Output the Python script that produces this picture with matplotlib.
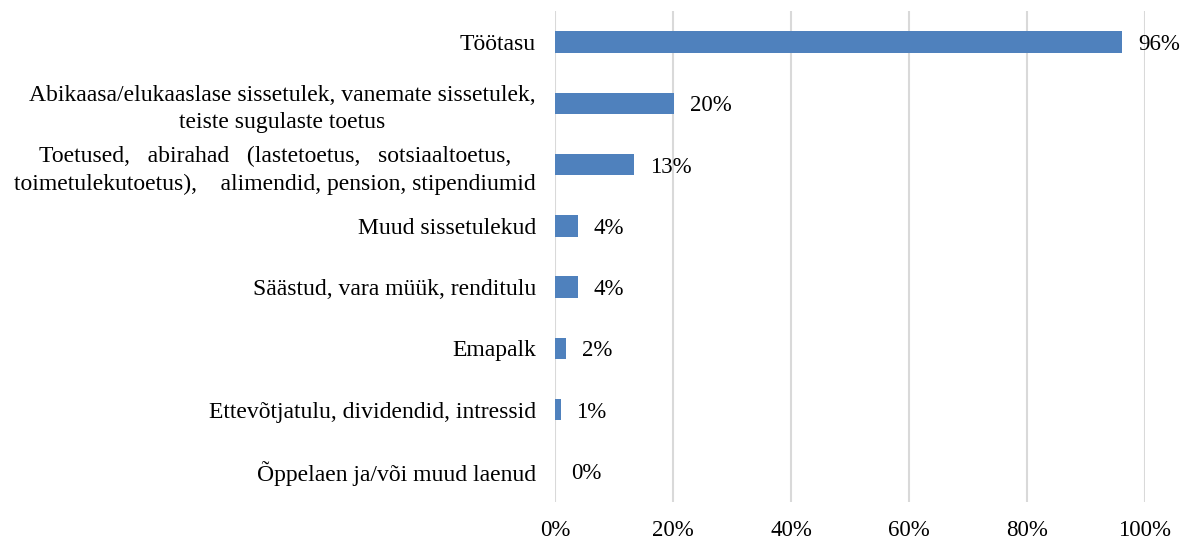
import matplotlib.pyplot as plt
from matplotlib.ticker import PercentFormatter

plt.rcParams['font.family'] = ['Liberation Serif', 'DejaVu Serif']

# categories top to bottom
categories = [
    "Töötasu",
    "Abikaasa/elukaaslase sissetulek, vanemate sissetulek,\nteiste sugulaste toetus",
    "Toetused,   abirahad   (lastetoetus,   sotsiaaltoetus,\ntoimetulekutoetus),    alimendid, pension, stipendiumid",
    "Muud sissetulekud",
    "Säästud, vara müük, renditulu",
    "Emapalk",
    "Ettevõtjatulu, dividendid, intressid",
    "Õppelaen ja/või muud laenud",
]
values = [0.961, 0.202, 0.134, 0.038, 0.038, 0.019, 0.009, 0.0]
value_labels = ["96%", "20%", "13%", "4%", "4%", "2%", "1%", "0%"]

fig = plt.figure(figsize=(11.89, 5.4), dpi=100)
ax = fig.add_axes([0.467, 0.071, 0.496, 0.908])

ypos = list(range(len(categories)))
ax.barh(ypos, values, height=0.35, color='#4f81bd', zorder=3)
ax.set_ylim(len(categories) - 0.5, -0.5)
ax.set_xlim(0, 1)
ax.set_yticks(ypos)
ax.set_yticklabels(categories, fontsize=17, multialignment='center', linespacing=1.4)
ax.set_xticks([0, 0.2, 0.4, 0.6, 0.8, 1.0])
ax.xaxis.set_major_formatter(PercentFormatter(1.0, decimals=0))
ax.tick_params(axis='x', labelsize=16.5, length=0, pad=13)
ax.tick_params(axis='y', length=0, pad=14)
ax.grid(axis='x', color='#d9d9d9', linewidth=1.5, zorder=0)
for s in ax.spines.values():
    s.set_visible(False)

for y, v, lab in zip(ypos, values, value_labels):
    ax.annotate(lab, (v, y), xytext=(11.5, 0), textcoords='offset points',
                va='center_baseline', ha='left', fontsize=16.5)

fig.savefig('out.png', dpi=100)
